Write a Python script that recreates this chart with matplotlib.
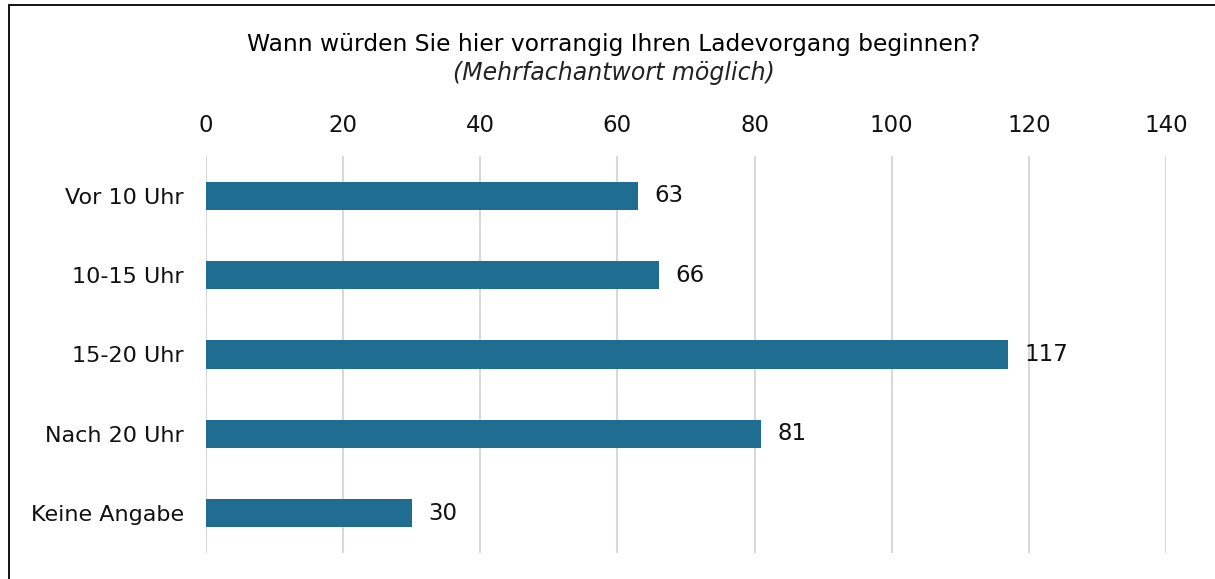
import matplotlib
matplotlib.use("Agg")
import matplotlib.pyplot as plt
from matplotlib.patches import Rectangle

categories = ["Vor 10 Uhr", "10-15 Uhr", "15-20 Uhr", "Nach 20 Uhr", "Keine Angabe"]
values = [63, 66, 117, 81, 30]
xticks = [0, 20, 40, 60, 80, 100, 120, 140]
title = "Wann würden Sie hier vorrangig Ihren Ladevorgang beginnen?"
subtitle = "(Mehrfachantwort möglich)"

plt.rcParams['font.family'] = ['DejaVu Sans']

W, H = 1215, 579
fig = plt.figure(figsize=(W / 100, H / 100), dpi=100)
ax = fig.add_axes([206 / W, 1 - 553 / H, (1166 - 206) / W, (553 - 156) / H])

ypos = list(range(len(categories)))
ax.barh(ypos, values, height=0.353, color="#1F6E91", zorder=3)
for y, v in zip(ypos, values):
    ax.text(v + 2.4, y, str(v), va="center", ha="left", fontsize=16.5, color="#111111")

ax.set_xlim(0, 140)
ax.set_ylim(len(categories) - 0.5, -0.5)
ax.set_yticks(ypos)
ax.set_yticklabels(categories, fontsize=16, color="#111111")
ax.set_xticks(xticks)
ax.set_xticklabels([str(t) for t in xticks], fontsize=16.5, color="#111111")
ax.xaxis.tick_top()
ax.tick_params(axis="x", length=0, pad=14)
ax.tick_params(axis="y", length=0, pad=16)
ax.grid(axis="x", color="#D9D9D9", linewidth=1.5, zorder=0)
for s in ax.spines.values():
    s.set_visible(False)

fig.text(614 / W, 1 - 45 / H, title, ha="center", va="center",
         fontsize=16.8, color="#000000")
fig.text(614 / W, 1 - 73 / H, subtitle, ha="center", va="center",
         fontsize=17, style="italic", color="#222222")

fig.patches.append(Rectangle((8.5 / W, -0.1), 2.0, 1 - 5 / H + 0.1, transform=fig.transFigure,
                             fill=False, edgecolor="#000000", linewidth=1.3))

fig.savefig("out.png", dpi=100)
